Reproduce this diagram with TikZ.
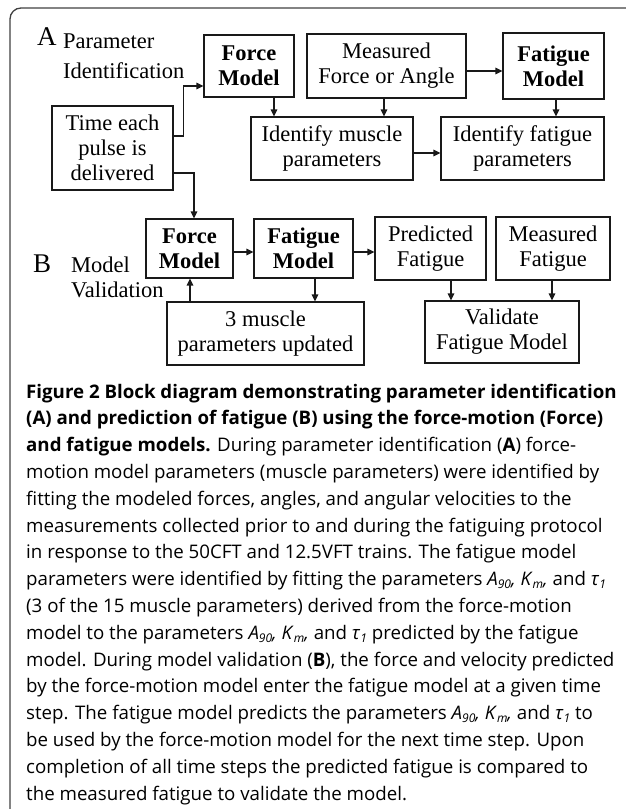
\documentclass[tikz,border=0pt]{standalone}
\usepackage{fontspec}
\setmainfont{Liberation Serif}
\newfontfamily\capfont{Open Sans}
\usetikzlibrary{arrows.meta}
\newcommand\subi[1]{\raisebox{-0.3ex}{\fontsize{12}{12}\selectfont\itshape #1}}
\newcommand\capline[3]{\node[capl] (#1) at (26,{398+26.8*(#2-1)}) {#3};}
\begin{document}
\begin{tikzpicture}[x=1pt,y=-1pt,
  box/.style={draw=black!90, line width=1.2pt, align=center, inner sep=0pt,
    font=\fontsize{22.5}{25}\selectfont},
  lbl/.style={inner sep=0pt, anchor=base west, font=\fontsize{22.5}{25}\selectfont},
  big/.style={inner sep=0pt, anchor=base west, font=\fontsize{27}{30}\selectfont},
  capl/.style={inner sep=0pt, anchor=base west, font=\capfont\fontsize{18.7}{26.8}\selectfont},
  ar/.style={line width=1.4pt, draw=black!90, -{Triangle[length=7pt,width=6.5pt]}}]
\useasboundingbox (0,0) rectangle (625,809);
% frame
\draw[line width=1.3pt, draw=black!75, rounded corners=11pt]
  (640,8) -- (10,8) -- (10,822) -- (40,822);
% labels
\node[big] (lA) at (37,45) {A};
\node[lbl] (lP1) at (63,48) {Parameter};
\node[lbl] (lP2) at (63,78) {Identification};
\node[big] (lB) at (33,272) {B};
\node[lbl] (lM1) at (71,272) {Model};
\node[lbl] (lM2) at (71,297) {Validation};
% boxes A
\node[box, minimum width=90pt, minimum height=62pt] (FA) at (249,66) {\textbf{Force}\\\textbf{Model}};
\node[box, minimum width=159pt, minimum height=64pt] (MA) at (386.5,66) {Measured\\Force or Angle};
\node[box, minimum width=101pt, minimum height=66pt] (TA) at (553.5,66) {\textbf{Fatigue}\\\textbf{Model}};
\node[box, minimum width=121pt, minimum height=84pt] (TM) at (112.5,148) {Time each\\pulse is\\delivered};
\node[box, minimum width=162pt, minimum height=63pt] (IM) at (332,148.5) {Identify muscle\\parameters};
\node[box, minimum width=163pt, minimum height=63pt] (IF) at (522.5,148.5) {Identify fatigue\\parameters};
% boxes B
\node[box, minimum width=87pt, minimum height=59pt] (FB) at (189.5,248.5) {\textbf{Force}\\\textbf{Model}};
\node[box, minimum width=99pt, minimum height=59pt] (TB) at (303.5,248.5) {\textbf{Fatigue}\\\textbf{Model}};
\node[box, minimum width=111pt, minimum height=63pt] (PF) at (430.5,248.5) {Predicted\\Fatigue};
\node[box, minimum width=114pt, minimum height=63pt] (MF) at (553,248.5) {Measured\\Fatigue};
\node[box, minimum width=197pt, minimum height=63pt] (UP) at (265.5,333.5) {3 muscle\\parameters updated};
\node[box, minimum width=154pt, minimum height=62pt] (VF) at (502,332) {Validate\\Fatigue Model};
% connectors A
\draw[ar] ([yshift=12pt]TM.east) -- ++(10,0) |- ([yshift=-20pt]FA.west);
\draw[ar] ([yshift=-25pt]TM.east) -| ([xshift=4.5pt]FB.north);
\draw[ar] ([xshift=25pt]FA.south) -- ([xshift=25pt]FA.south |- IM.north);
\draw[ar] ([xshift=-2.5pt]MA.south) -- ([xshift=-2.5pt]MA.south |- IM.north);
\draw[ar] ([yshift=-5pt]MA.east) -- ([yshift=-5pt]MA.east -| TA.west);
\draw[ar] ([xshift=2.5pt]TA.south) -- ([xshift=2.5pt]TA.south |- IF.north);
\draw[ar] ([yshift=-4.5pt]IM.east) -- ([yshift=-4.5pt]IM.east -| IF.west);
% connectors B
\draw[ar] ([yshift=-3.5pt]FB.east) -- ([yshift=-3.5pt]FB.east -| TB.west);
\draw[ar] ([yshift=-3.5pt]TB.east) -- ([yshift=-3.5pt]TB.east -| PF.west);
\draw[ar] ([xshift=11.5pt]TB.south) -- ([xshift=11.5pt]TB.south |- UP.north);
\draw[ar] ([xshift=0.5pt]FB.south |- UP.north) -- ([xshift=0.5pt]FB.south);
\draw[ar] ([xshift=20.5pt]PF.south) -- ([xshift=20.5pt]PF.south |- VF.north);
\draw[ar] ([xshift=-1pt]MF.south) -- ([xshift=-1pt]MF.south |- VF.north);
% caption
\capline{c1}{1}{\textbf{Figure 2 Block diagram demonstrating parameter identification}}
\capline{c2}{2}{\textbf{(A) and prediction of fatigue (B) using the force-motion (Force)}}
\capline{c3}{3}{\textbf{and fatigue models.} During parameter identification (\textbf{A}) force-}
\capline{c4}{4}{motion model parameters (muscle parameters) were identified by}
\capline{c5}{5}{fitting the modeled forces, angles, and angular velocities to the}
\capline{c6}{6}{measurements collected prior to and during the fatiguing protocol}
\capline{c7}{7}{in response to the 50CFT and 12.5VFT trains. The fatigue model}
\capline{c8}{8}{parameters were identified by fitting the parameters \textit{A}\subi{90}\textit{,} \textit{K}\subi{m}\textit{,} and \textit{τ}\subi{1}}
\capline{c9}{9}{(3 of the 15 muscle parameters) derived from the force-motion}
\capline{c10}{10}{model to the parameters \textit{A}\subi{90}\textit{,} \textit{K}\subi{m}\textit{,} and \textit{τ}\subi{1} predicted by the fatigue}
\capline{c11}{11}{model. During model validation (\textbf{B}), the force and velocity predicted}
\capline{c12}{12}{by the force-motion model enter the fatigue model at a given time}
\capline{c13}{13}{step. The fatigue model predicts the parameters \textit{A}\subi{90}\textit{,} \textit{K}\subi{m}\textit{,} and \textit{τ}\subi{1} to}
\capline{c14}{14}{be used by the force-motion model for the next time step. Upon}
\capline{c15}{15}{completion of all time steps the predicted fatigue is compared to}
\capline{c16}{16}{the measured fatigue to validate the model.}
\end{tikzpicture}
\end{document}
